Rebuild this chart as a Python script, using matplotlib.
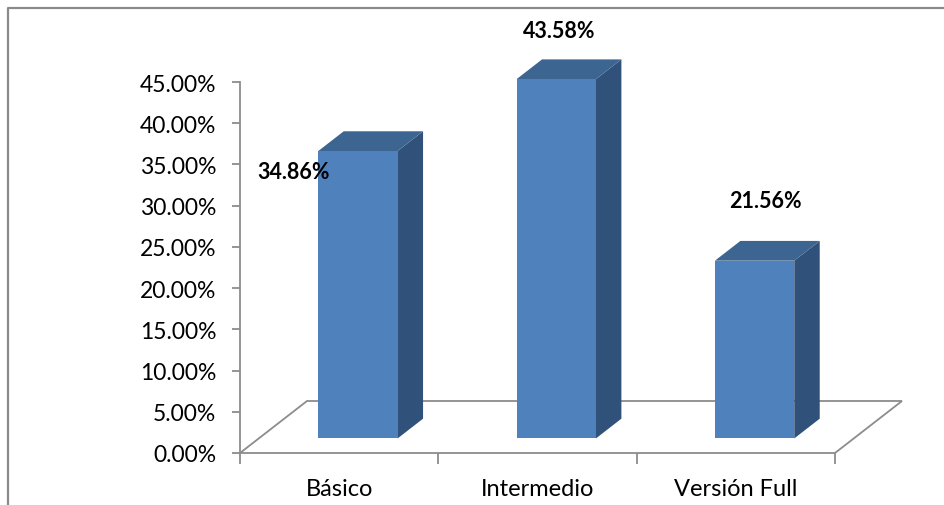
import matplotlib
matplotlib.use("Agg")
import matplotlib.pyplot as plt
from matplotlib.patches import Polygon
from matplotlib.lines import Line2D
from matplotlib.ticker import FuncFormatter, FixedLocator

categories = ["Básico", "Intermedio", "Versión Full"]
values = [34.86, 43.58, 21.56]
value_labels = ["34.86%", "43.58%", "21.56%"]
yticks = [0, 5, 10, 15, 20, 25, 30, 35, 40, 45]

# label offsets from the bar's front-top edge centre (points)
label_offsets = [(-46, -15), (2, 35), (8, 43)]

FRONT = "#4f81bd"
SIDE = "#30527a"
TOP = "#3d6591"
GRID = "#8c8c8c"

W, H, DPI = 945, 506, 100
fig = plt.figure(figsize=(W / DPI, H / DPI), dpi=DPI)
plt.rcParams["font.family"] = ["Lato", "DejaVu Sans"]

ax = fig.add_axes([240 / W, (H - 454) / H, 595 / W, 371 / H])
ax.set_xlim(-0.5, 2.5)
ax.set_ylim(0, 45)
ax.patch.set_visible(False)

# depth vector of the floor in data units
depth_dx = 67 / 198.33
depth_dy = 52 / 8.244
f0, f1 = 0.28, 0.66
bar_w = 0.40

# floor parallelogram
floor = Polygon([(-0.5, 0), (2.5, 0), (2.5 + depth_dx, depth_dy),
                 (-0.5 + depth_dx, depth_dy)], closed=True, fill=False,
                edgecolor=GRID, lw=1.3, clip_on=False, zorder=1)
ax.add_patch(floor)

for i, v in enumerate(values):
    ox0, oy0 = f0 * depth_dx, f0 * depth_dy
    ox1, oy1 = f1 * depth_dx, f1 * depth_dy
    x0 = i - bar_w / 2 + ox0
    x1 = i + bar_w / 2 + ox0
    yb = oy0
    yt = v + oy0
    dxb, dyb = ox1 - ox0, oy1 - oy0
    side = Polygon([(x1, yb), (x1 + dxb, yb + dyb), (x1 + dxb, yt + dyb), (x1, yt)],
                   closed=True, facecolor=SIDE, edgecolor="none", clip_on=False, zorder=3)
    top = Polygon([(x0, yt), (x1, yt), (x1 + dxb, yt + dyb), (x0 + dxb, yt + dyb)],
                  closed=True, facecolor=TOP, edgecolor="none", clip_on=False, zorder=3)
    front = Polygon([(x0, yb), (x1, yb), (x1, yt), (x0, yt)],
                    closed=True, facecolor=FRONT, edgecolor="none", clip_on=False, zorder=4)
    for p in (side, top, front):
        ax.add_patch(p)
    cx = (x0 + x1) / 2
    ax.annotate(value_labels[i], xy=(cx, yt), xytext=label_offsets[i],
                textcoords="offset points", ha="center", va="center",
                fontsize=15.5, fontweight="bold", color="black", zorder=6,
                annotation_clip=False)

# axes styling
for s in ("top", "right", "bottom"):
    ax.spines[s].set_visible(False)
ax.spines["left"].set_color(GRID)
ax.spines["left"].set_linewidth(1.3)

ax.yaxis.set_major_locator(FixedLocator(yticks))
ax.yaxis.set_major_formatter(FuncFormatter(lambda v, p: f"{v:.2f}%"))
ax.tick_params(axis="y", length=6, width=1.3, color=GRID, labelsize=16.5, pad=11)

ax.set_xticks([-0.5, 0.5, 1.5, 2.5])
ax.set_xticklabels([])
ax.set_xticks(range(len(categories)), minor=True)
ax.set_xticklabels(categories, minor=True)
ax.tick_params(axis="x", which="major", length=8, width=1.3, color=GRID, direction="out")
ax.tick_params(axis="x", which="minor", length=0, labelsize=17, pad=18)

# chart frame
fig.add_artist(Line2D([8 / W, 8 / W, 1.0], [0.0, 1 - 9 / H, 1 - 9 / H],
                      transform=fig.transFigure, color="#8a8a8a", lw=1.6))

fig.savefig("out.png", dpi=DPI, facecolor="white")
